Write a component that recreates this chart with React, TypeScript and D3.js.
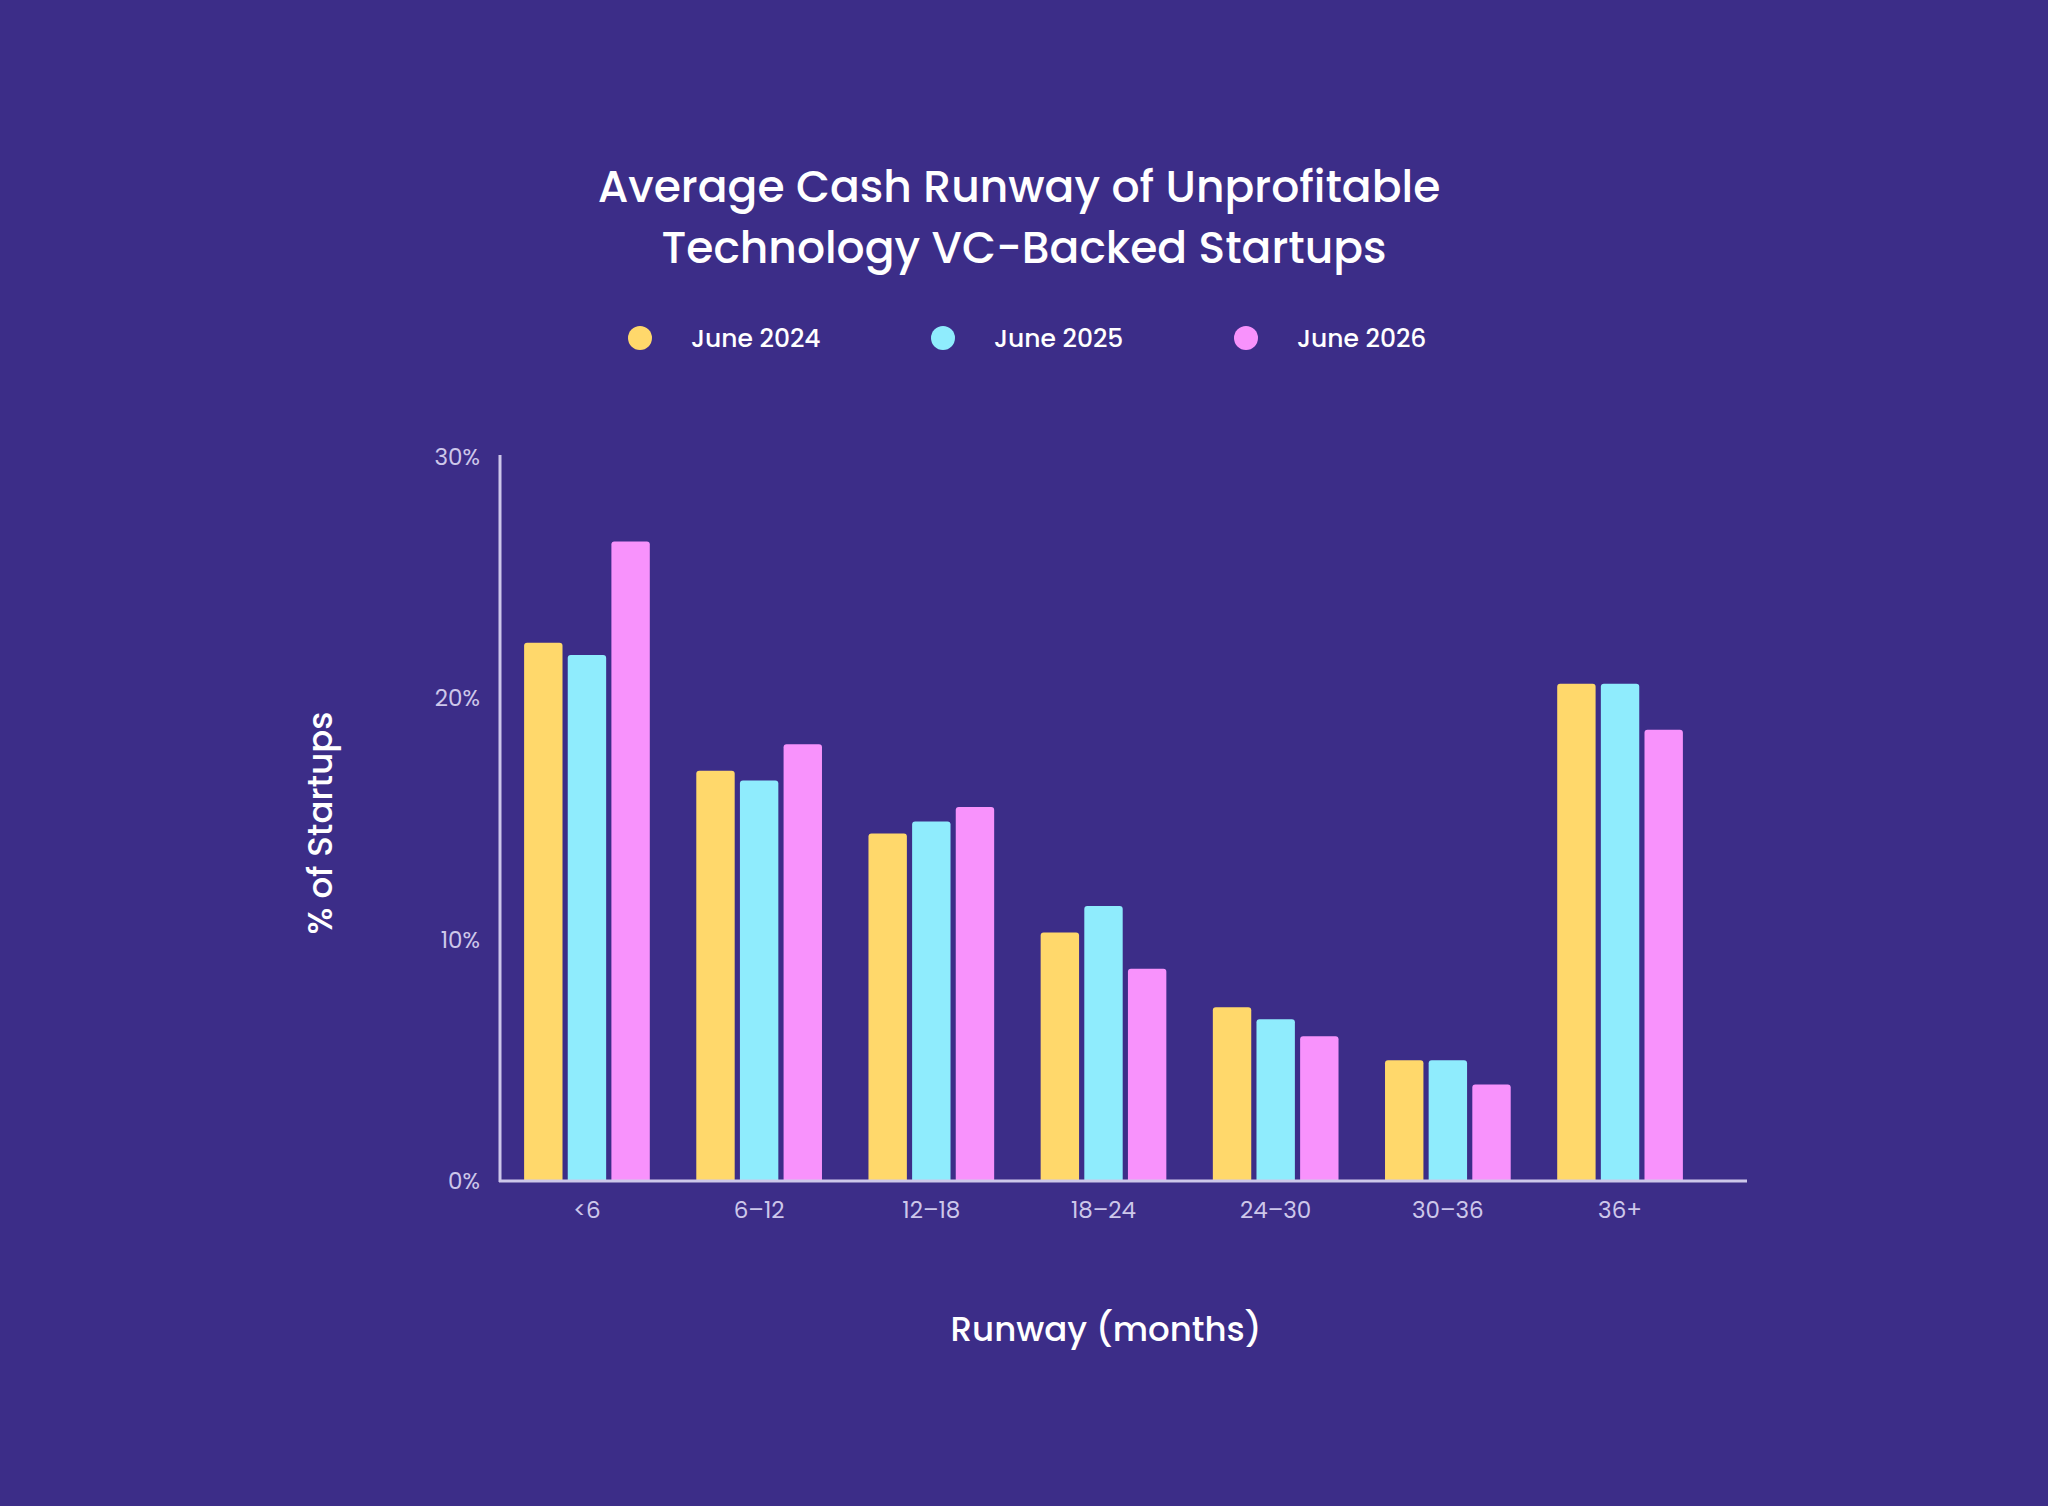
import * as d3 from "d3";
import React from "react";

const categories = ["<6", "6–12", "12–18", "18–24", "24–30", "30–36", "36+"];
const seriesNames = ["June 2024", "June 2025", "June 2026"];
const june2024 = [22.3, 17.0, 14.4, 10.3, 7.2, 5.0, 20.6];
const june2025 = [21.8, 16.6, 14.9, 11.4, 6.7, 5.0, 20.6];
const june2026 = [26.5, 18.1, 15.5, 8.8, 6.0, 4.0, 18.7];
const yTicks = [0, 10, 20, 30];
const colors = ["#ffd86b", "#8fecfd", "#f892fc"];

const W = 2048;
const H = 1506;
const font = "Poppins, 'Open Sans', Lato, sans-serif";

export default function App() {
  const series = [june2024, june2025, june2026];
  const x = d3.scaleBand().domain(categories).range([500, 1707]).paddingInner(0.27).paddingOuter(0.14);
  const x1 = d3.scaleBand().domain(seriesNames).range([0, x.bandwidth()]).paddingInner(0.12);
  const y = d3.scaleLinear().domain([0, 30]).range([1181, 457]);
  const axisColor = "#cdc7ea";

  return (
    <svg width={W} height={H} style={{ display: "block", position: "absolute", left: 0, top: 0 }}>
      <rect width={W} height={H} fill="#3c2d88" />
      <g fill="#ffffff" fontFamily={font} fontWeight={500} textAnchor="middle">
        <text x={1019} y={202} fontSize={44}>Average Cash Runway of Unprofitable</text>
        <text x={1024} y={263} fontSize={44}>Technology VC-Backed Startups</text>
      </g>
      {seriesNames.map((s, i) => (
        <g key={s} transform={`translate(${640 + i * 303},338)`}>
          <circle r={12} fill={colors[i]} />
          <text x={51} y={9} fill="#ffffff" fontFamily={font} fontSize={25} fontWeight={500}>{s}</text>
        </g>
      ))}
      {yTicks.map((t) => (
        <text key={t} x={480} y={y(t) + 8} textAnchor="end" fill={axisColor} fontFamily={font} fontSize={23}>{t}%</text>
      ))}
      {categories.map((c, ci) => (
        <g key={c} transform={`translate(${x(c)},0)`}>
          {series.map((vals, si) => (
            <path
              key={si}
              d={(() => {
                const bx = x1(seriesNames[si])!;
                const bw = x1.bandwidth();
                const top = y(vals[ci]);
                const r = 3;
                const b = y(0);
                return `M${bx},${b}V${top + r}Q${bx},${top} ${bx + r},${top}H${bx + bw - r}Q${bx + bw},${top} ${bx + bw},${top + r}V${b}Z`;
              })()}
              fill={colors[si]}
            />
          ))}
          <text x={x.bandwidth() / 2} y={1218} textAnchor="middle" fill={axisColor} fontFamily={font} fontSize={23}>{c}</text>
        </g>
      ))}
      <line x1={500} x2={500} y1={455} y2={1182} stroke={axisColor} strokeWidth={3} />
      <line x1={499} x2={1747} y1={1181} y2={1181} stroke={axisColor} strokeWidth={3} />
      <text x={1106} y={1341} textAnchor="middle" fill="#ffffff" fontFamily={font} fontSize={34} fontWeight={500}>Runway (months)</text>
      <text transform="translate(332,823) rotate(-90)" textAnchor="middle" fill="#ffffff" fontFamily={font} fontSize={34} fontWeight={500}>% of Startups</text>
    </svg>
  );
}
